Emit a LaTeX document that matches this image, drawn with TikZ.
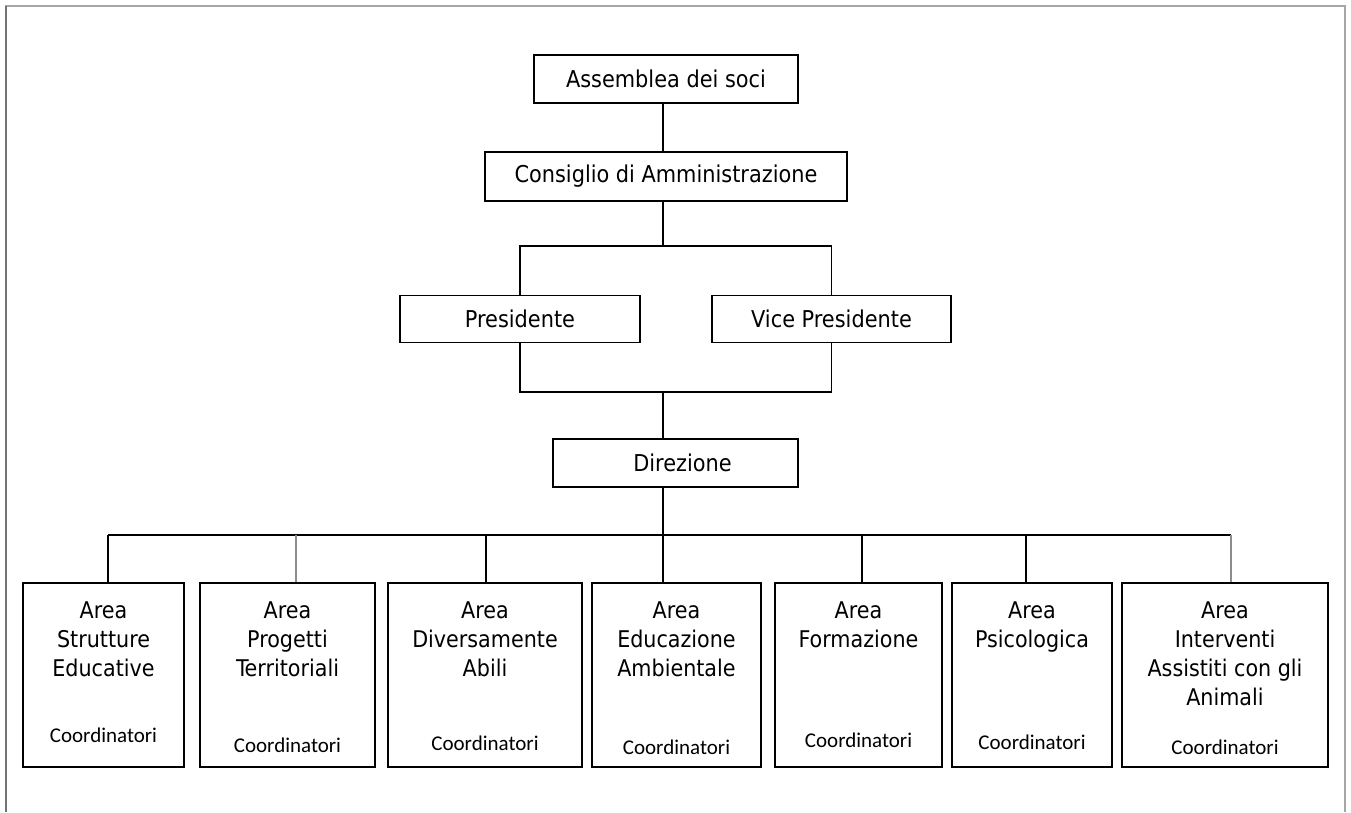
\documentclass[tikz,border=0pt]{standalone}
\usepackage{fontspec}
\setmainfont{DejaVu Sans Condensed}
\newfontfamily\coordfont{Carlito}
\usetikzlibrary{positioning}

\begin{document}
\begin{tikzpicture}[
x=1pt, y=-1pt,
line/.style={draw, line width=1.8pt},
gline/.style={draw, line width=2pt, color=black!45},
frame/.style={draw, line width=2pt, color=black!35},
box/.style={draw, line width=1.8pt, inner sep=0pt, font=\fontsize{23.2}{29}\selectfont},
area/.style={draw, line width=1.8pt, inner sep=0pt, minimum height=184pt},
title/.style={inner sep=0pt, align=center, font=\fontsize{23}{29}\selectfont},
coord/.style={inner sep=0pt, font=\coordfont\fontsize{21}{24}\selectfont},
]
\useasboundingbox (0,0) rectangle (1351,812);

%page frame
\path[frame] (6,812) -- (6,6) -- (1345,6) -- (1345,812);
\path[frame, color=black!55] (6,812) -- (6,6);

%top of the chart
\node[box, minimum width=264pt, minimum height=48pt] (ass) at (666,79) {Assemblea dei soci};
\node[box, minimum width=362pt, minimum height=49pt] (cda) at (666,176.5) {Consiglio di Amministrazione};
\node[box, minimum width=240pt, minimum height=47pt] (pres) at (520,319) {Presidente};
\node[box, minimum width=239pt, minimum height=47pt] (vice) at (831.5,319) {Vice Presidente};
\node[box, minimum width=245pt, minimum height=48pt] (dir) at (675.5,463) {\hspace*{14pt}Direzione};

%areas
\node[area, minimum width=161pt] (a1) at (103.5,675) {};
	\node[title, below=19pt of a1.north] {Area\\Strutture\\Educative};
	\node[coord, above=25pt of a1.south] {Coordinatori};
\node[area, minimum width=175pt] (a2) at (287.5,675) {};
	\node[title, below=19pt of a2.north] {Area\\Progetti\\Territoriali};
	\node[coord, above=15pt of a2.south] {Coordinatori};
\node[area, minimum width=194pt] (a3) at (485,675) {};
	\node[title, below=19pt of a3.north] {Area\\Diversamente\\Abili};
	\node[coord, above=17pt of a3.south] {Coordinatori};
\node[area, minimum width=169pt] (a4) at (676.5,675) {};
	\node[title, below=19pt of a4.north] {Area\\Educazione\\Ambientale};
	\node[coord, above=13pt of a4.south] {Coordinatori};
\node[area, minimum width=167pt] (a5) at (858.5,675) {};
	\node[title, below=19pt of a5.north] {Area\\Formazione};
	\node[coord, above=20pt of a5.south] {Coordinatori};
\node[area, minimum width=160pt] (a6) at (1032,675) {};
	\node[title, below=19pt of a6.north] {Area\\Psicologica};
	\node[coord, above=18pt of a6.south] {Coordinatori};
\node[area, minimum width=206pt] (a7) at (1225,675) {};
	\node[title, below=19pt of a7.north] {Area\\Interventi\\Assistiti con gli\\Animali};
	\node[coord, above=13pt of a7.south] {Coordinatori};

%joints
\coordinate (top) at (663,246);
\coordinate (mid) at (663,392);
\coordinate (busL) at (108,535);
\coordinate (busR) at (1231,535);

\path[line] ([xshift=-3pt]ass.south) -- ([xshift=-3pt]cda.north);
\path[line] (cda.south -| top) -- (top);
\path[line] (pres.north) |- (top) -| (vice.north);
\path[line] (pres.south) |- (mid) -| (vice.south);
\path[line] (mid) -- (dir.north -| mid);
\path[line] (dir.south -| mid) -- (a4.north -| mid);
\path[line] (busL) -- (busR);

\path[line] (busL) -- (busL |- a1.north);
\path[gline] ([xshift=8.5pt]a2.north) -- ([xshift=8.5pt]a2.north |- busL);
\path[line] ([xshift=1pt]a3.north) -- ([xshift=1pt]a3.north |- busL);
\path[line] ([xshift=3.5pt]a5.north) -- ([xshift=3.5pt]a5.north |- busL);
\path[line] ([xshift=-6pt]a6.north) -- ([xshift=-6pt]a6.north |- busL);
\path[gline] (busR) -- (busR |- a7.north);

\end{tikzpicture}
\end{document}
